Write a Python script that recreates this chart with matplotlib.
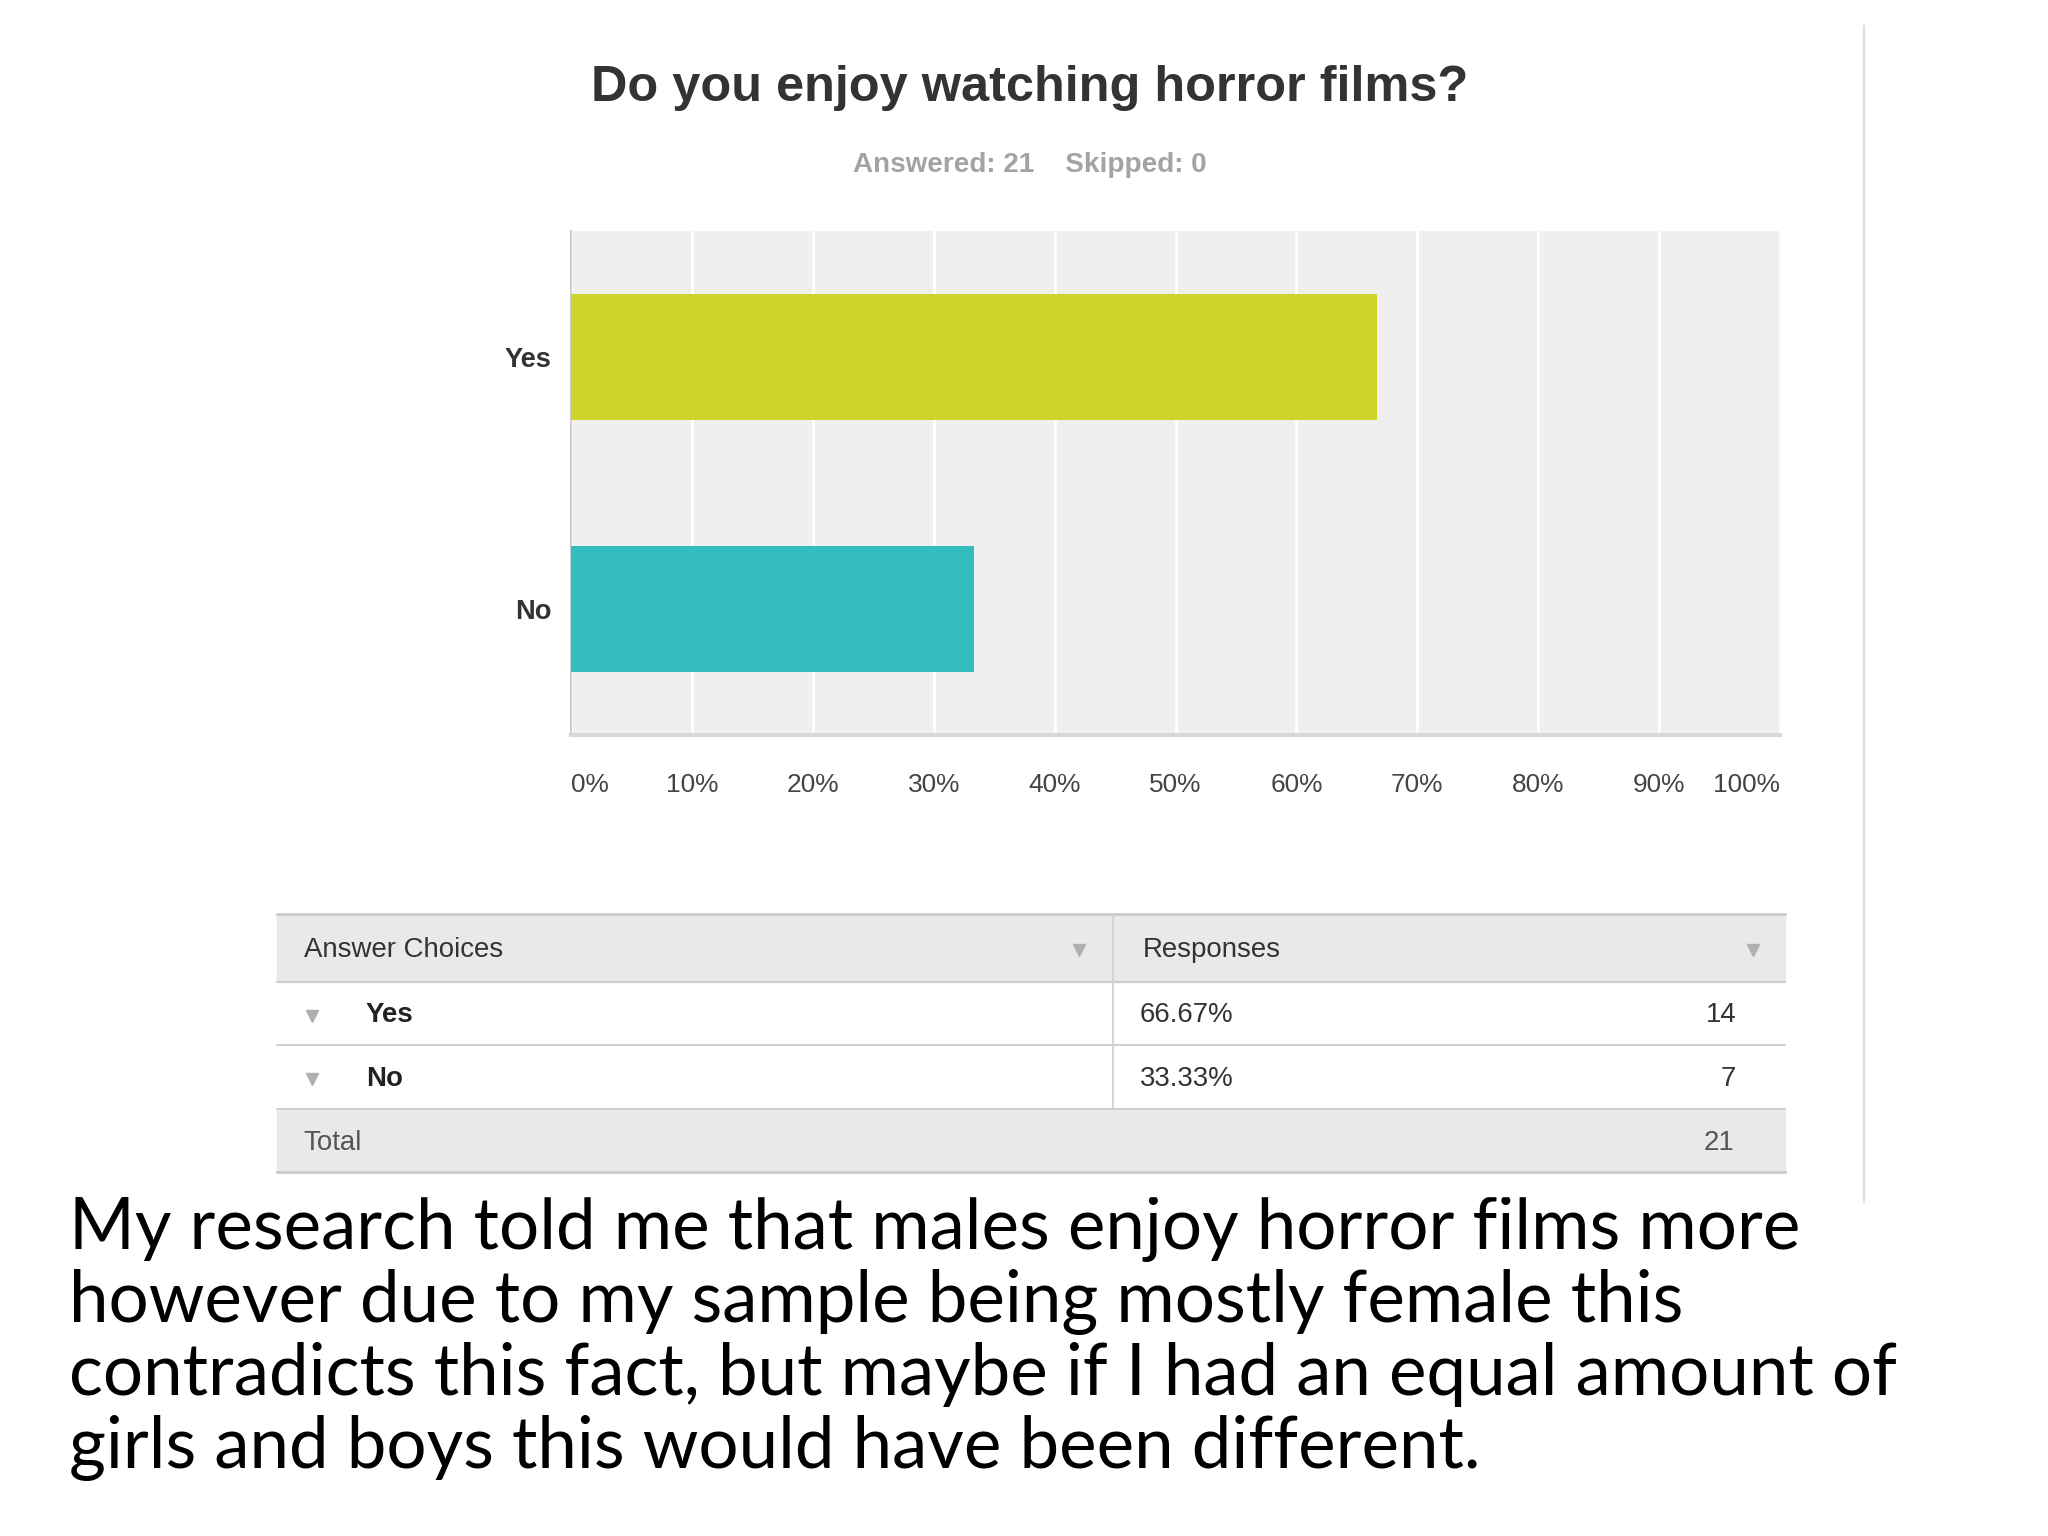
import numpy as np
import matplotlib.pyplot as plt
from matplotlib.patches import Rectangle

# survey data
title = 'Do you enjoy watching horror films?'
answered = 21
skipped = 0
categories = ['Yes', 'No']
percents = [66.67, 33.33]
counts = [14, 7]
total = 21
xticks = [0, 10, 20, 30, 40, 50, 60, 70, 80, 90, 100]
xtick_labels = ['%d%%' % v for v in xticks]
comment = ['My research told me that males enjoy horror films more',
           'however due to my sample being mostly female this',
           'contradicts this fact, but maybe if I had an equal amount of',
           'girls and boys this would have been different.']

bar_colors = ['#cfd42b', '#33bdbe']
FAM = ['Liberation Sans Narrow', 'Liberation Sans', 'DejaVu Sans']
BODY = ['Lato', 'DejaVu Sans']

fig = plt.figure(figsize=(20.48, 15.36), dpi=100)
r = fig.canvas.get_renderer()


def size_for(s, width_px, **kw):
    t = fig.text(0, 0, s, fontsize=10, **kw)
    w = t.get_window_extent(renderer=r).width
    t.remove()
    return 10 * width_px / w


fs_title = size_for(title, 878, family=FAM, fontweight='bold')
sub = 'Answered: %d    Skipped: %d' % (answered, skipped)
fs_sub = size_for(sub, 355, family=FAM, fontweight='bold')
fs_tick = size_for('100%', 67, family=FAM)
fs_ylab = size_for('Yes', 47, family=FAM, fontweight='bold')
fs_tbl = size_for('Answer Choices', 200, family=FAM)
fs_body = size_for(comment[2], 1830, family=BODY)

# overlay in pixel coordinates
ov = fig.add_axes([0, 0, 1, 1])
ov.set_xlim(0, 2048)
ov.set_ylim(1536, 0)
ov.axis('off')

ov.text(1030, 88, title, ha='center', va='center', fontsize=fs_title,
        family=FAM, fontweight='bold', color='#333333', zorder=5)
ov.text(1030, 165, sub, ha='center', va='center', fontsize=fs_sub,
        family=FAM, fontweight='bold', color='#a3a3a3', zorder=5)

# bar chart
ax = fig.add_axes([571/2048, 1-735/1536, 1209/2048, 504/1536])
ax.set_facecolor('#efeef1')
ypos = np.arange(len(categories))
ax.barh(ypos, percents, height=0.5, color=bar_colors, zorder=3)
ax.set_xlim(0, 100)
ax.set_ylim(1.5, -0.5)
ax.set_xticks(xticks)
ax.set_xticklabels(xtick_labels, fontsize=fs_tick, family=FAM, color='#444444')
labs = ax.get_xticklabels()
labs[0].set_ha('left')
labs[-1].set_ha('right')
ax.set_yticks(ypos)
ax.set_yticklabels(categories, fontsize=fs_ylab, family=FAM, fontweight='bold', color='#333333')
ax.tick_params(axis='x', length=0, pad=27)
ax.tick_params(axis='y', length=0, pad=14)
ax.grid(axis='x', color='white', lw=2, zorder=1)
ax.set_axisbelow(True)
ax.spines['top'].set_visible(False)
ax.spines['right'].set_visible(False)
ax.spines['left'].set_color('#cfcfcf')
ax.spines['left'].set_linewidth(1.5)
ax.spines['bottom'].set_color('#d8d8da')
ax.spines['bottom'].set_linewidth(3)

# table
x0, xm, x1 = 277, 1113, 1785
rows = [914, 982, 1045, 1109, 1172]
ov.add_patch(Rectangle((x0, rows[0]), x1 - x0, rows[1] - rows[0], color='#e9e9e9', zorder=3))
ov.add_patch(Rectangle((x0, rows[3]), x1 - x0, rows[4] - rows[3], color='#e9e9e9', zorder=3))
for i, y in enumerate(rows):
    lw = 2 if i in (0, 4) else 1.3
    ov.plot([x0, x1], [y, y], color='#cbcbcb', lw=lw, zorder=4)
ov.plot([xm, xm], [rows[0], rows[3]], color='#d2d2d2', lw=1.3, zorder=4)

hy = (rows[0] + rows[1]) / 2 + 2
ov.text(304, hy, 'Answer Choices', ha='left', va='center', fontsize=fs_tbl, family=FAM, color='#333333', zorder=5)
ov.text(1143, hy, 'Responses', ha='left', va='center', fontsize=fs_tbl, family=FAM, color='#333333', zorder=5)
ov.plot([1079, 1753], [hy, hy], ls='none', marker='v', ms=8, color='#b0b0b0', zorder=5)
for i, cat in enumerate(categories):
    my = (rows[i + 1] + rows[i + 2]) / 2 + 2
    ov.plot(312, my, marker='v', ms=8, color='#b0b0b0', zorder=5)
    ov.text(366, my, cat, ha='left', va='center', fontsize=fs_tbl, family=FAM, fontweight='bold', color='#222222', zorder=5)
    ov.text(1140, my, '%.2f%%' % percents[i], ha='left', va='center', fontsize=fs_tbl, family=FAM, color='#333333', zorder=5)
    ov.text(1736, my, str(counts[i]), ha='right', va='center', fontsize=fs_tbl, family=FAM, color='#333333', zorder=5)
ty = (rows[3] + rows[4]) / 2 + 2
ov.text(303, ty, 'Total', ha='left', va='center', fontsize=fs_tbl, family=FAM, color='#555555', zorder=5)
ov.text(1734, ty, str(total), ha='right', va='center', fontsize=fs_tbl, family=FAM, color='#555555', zorder=5)

# right border of the screenshot
ov.plot([1864, 1864], [26, 1202], color='#dcdcdc', lw=1.5, zorder=4)

# white screenshot area hides the top of the first text line
ov.add_patch(Rectangle((250, 0), 1616, 1196, color='white', zorder=2))

baselines = [1249, 1322, 1395, 1468]
for line, yb in zip(comment, baselines):
    ov.text(69, yb, line, ha='left', va='baseline', fontsize=fs_body, family=BODY, color='black', zorder=1)

fig.savefig('out.png', dpi=100, facecolor='white')
